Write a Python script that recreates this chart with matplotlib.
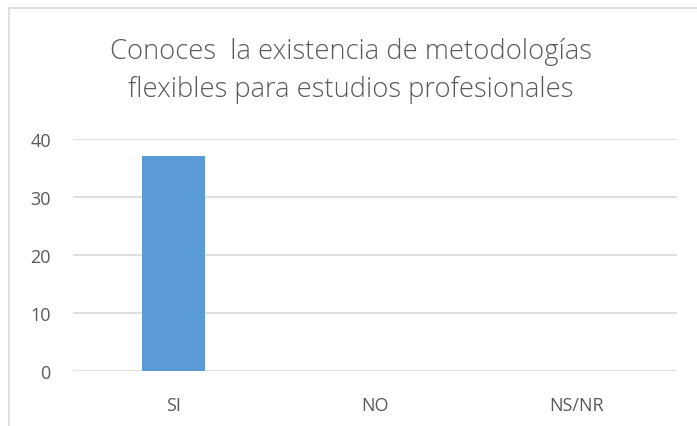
import matplotlib
matplotlib.use("Agg")
import matplotlib.pyplot as plt
from matplotlib.patches import Rectangle

categories = ["SI", "NO", "NS/NR"]
values = [37, 0, 0]
yticks = [0, 10, 20, 30, 40]
title = "Conoces  la existencia de metodologías\nflexibles para estudios profesionales"

W, H = 697, 427
fig = plt.figure(figsize=(W / 100, H / 100), dpi=100)
fig.patch.set_facecolor("white")

# outer chart frame (top and left visible, rest beyond the image)
fig.patches.append(Rectangle((8.5 / W, -0.1), 1.2, (H - 8.5) / H + 0.1,
                             transform=fig.transFigure, fill=False,
                             edgecolor="#d9d9d9", linewidth=1.2))

ax = fig.add_axes([73 / W, (H - 372) / H, (677 - 73) / W, (372 - 140) / H])
ax.bar(range(len(categories)), values, width=0.315, color="#5b9bd5", zorder=3)
ax.set_xlim(-0.5, len(categories) - 0.5)
ax.set_ylim(0, 40)
ax.set_yticks(yticks)
ax.set_xticks(range(len(categories)))
ax.set_xticklabels(categories)
ax.grid(axis="y", color="#d9d9d9", linewidth=1.2, zorder=0)
for s in ax.spines.values():
    s.set_visible(False)
ax.tick_params(length=0, colors="#595959", labelsize=13)
ax.tick_params(axis="y", pad=16)
ax.tick_params(axis="x", pad=18)
for lab in ax.get_xticklabels() + ax.get_yticklabels():
    lab.set_fontfamily("Open Sans")
    lab.set_color("#595959")
ax.set_axisbelow(True)

fig.text(351 / W, 1 - 71 / H, title, ha="center", va="center",
         fontsize=19.7, color="#595959", family="Open Sans",
         linespacing=1.45, fontweight="light")

fig.savefig("out.png", dpi=100)
